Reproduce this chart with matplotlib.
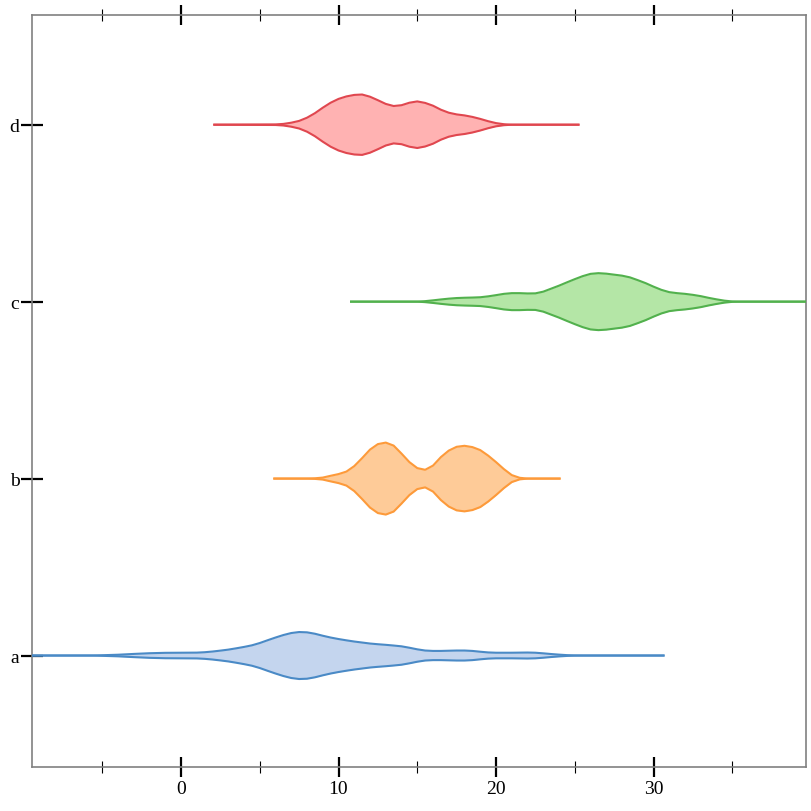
import numpy as np
import matplotlib
matplotlib.use("Agg")
import matplotlib.pyplot as plt
from matplotlib.ticker import MultipleLocator

plt.rcParams['font.family'] = ['Liberation Serif', 'DejaVu Serif']

categories = ['a', 'b', 'c', 'd']

# data range of each group (the thin line)
ranges = {
    'a': (-12.0, 30.7),
    'b': (5.86, 24.1),
    'c': (10.73, 41.0),
    'd': (2.05, 25.3),
}

# density profile (value, density)
a_x = [-5.5, -5.0, -4.0, -3.0, -2.0, -1.0, 0.0, 1.0, 1.5, 2.0, 2.5, 3.0, 3.5, 4.0, 4.5,
       5.0, 5.5, 6.0, 6.5, 7.0, 7.5, 8.0, 8.5, 9.0, 9.5, 10.0, 10.5, 11.0, 11.5, 12.0,
       12.5, 13.0, 13.5, 14.0, 14.5, 15.0, 15.5, 16.0, 16.5, 17.0, 17.5, 18.0, 18.5,
       19.0, 19.5, 20.0, 21.0, 22.0, 22.5, 23.0, 23.5, 24.0, 24.5, 25.0, 25.5]
a_d = [0, 0.3, 0.8, 1.6, 2.3, 2.7, 2.8, 2.9, 3.3, 4.0, 4.9, 5.9, 7.2, 8.6, 10.2,
       12.5, 15.3, 18.0, 20.5, 22.5, 23.5, 23.2, 21.8, 19.8, 18.0, 16.5, 15.2, 14.0, 13.0, 12.0,
       11.3, 10.7, 10.0, 9.2, 7.8, 6.2, 5.0, 4.6, 4.6, 4.8, 5.0, 5.0, 4.6,
       3.8, 3.1, 2.8, 2.8, 3.0, 2.8, 2.2, 1.5, 0.9, 0.4, 0.1, 0]

b_x = [8.0, 8.5, 9.0, 9.5, 10.0, 10.5, 11.0, 11.5, 12.0, 12.5, 13.0, 13.5, 14.0, 14.5,
       15.0, 15.5, 16.0, 16.5, 17.0, 17.5, 18.0, 18.5, 19.0, 19.5, 20.0, 20.5, 21.0, 21.5, 22.0]
b_d = [0, 0.3, 1.0, 2.8, 4.5, 7.0, 12.5, 20.5, 29.0, 34.5, 36.0, 33.0, 25.0, 16.5,
       10.5, 8.8, 13.0, 21.5, 28.0, 31.8, 32.8, 31.5, 28.5, 23.0, 16.5, 9.5, 3.5, 0.8, 0]

c_x = [15.0, 15.5, 16.0, 16.5, 17.0, 17.5, 18.0, 18.5, 19.0, 19.5, 20.0, 20.5, 21.0, 21.5,
       22.0, 22.5, 23.0, 23.5, 24.0, 24.5, 25.0, 25.5, 26.0, 26.5, 27.0, 27.5, 28.0, 28.5,
       29.0, 29.5, 30.0, 30.5, 31.0, 31.5, 32.0, 32.5, 33.0, 33.5, 34.0, 34.5, 35.0, 35.5]
c_d = [0, 0.5, 1.3, 2.2, 3.0, 3.6, 3.9, 4.1, 4.4, 5.3, 6.5, 7.8, 8.5, 8.5,
       8.2, 8.3, 10.0, 13.0, 16.0, 19.3, 22.5, 25.5, 27.8, 28.5, 28.0, 27.0, 26.0, 24.3,
       21.5, 18.5, 15.0, 11.8, 9.5, 8.5, 7.8, 6.8, 5.5, 3.8, 2.3, 1.0, 0.2, 0]

d_x = [6.0, 6.5, 7.0, 7.5, 8.0, 8.5, 9.0, 9.5, 10.0, 10.5, 11.0, 11.5, 12.0, 12.5, 13.0,
       13.5, 14.0, 14.5, 15.0, 15.5, 16.0, 16.5, 17.0, 17.5, 18.0, 18.5, 19.0, 19.5,
       20.0, 20.5, 21.0]
d_d = [0.3, 0.8, 2.0, 3.8, 7.0, 11.5, 17.0, 22.0, 25.8, 28.3, 29.8, 30.2, 28.0, 24.5, 20.8,
       18.7, 19.5, 22.0, 23.3, 21.8, 19.0, 15.0, 12.0, 10.3, 9.3, 7.8, 5.8, 3.5,
       1.6, 0.5, 0]

profiles = {'a': (a_x, a_d), 'b': (b_x, b_d), 'c': (c_x, c_d), 'd': (d_x, d_d)}

fills = {'a': '#c4d5ee', 'b': '#fecb98', 'c': '#b4e6a6', 'd': '#ffb2b2'}
strokes = {'a': '#4a8ac6', 'b': '#fd9a3a', 'c': '#52b14d', 'd': '#e0474f'}

fig = plt.figure(figsize=(8.12, 8.12), dpi=100)
ax = fig.add_axes([32 / 812, 1 - 768 / 812, 774 / 812, 752 / 812])

scale = 1 / 177.0  # density -> category units

for i, cat in enumerate(categories):
    px, pd = profiles[cat]
    lo, hi = ranges[cat]
    xs = np.array([lo] + list(px) + [hi])
    ds = np.array([0] + list(pd) + [0]) * scale
    ax.fill_between(xs, i - ds, i + ds, color=fills[cat], lw=0, zorder=2)
    ax.plot(xs, i + ds, color=strokes[cat], lw=1.5, zorder=3, solid_capstyle='butt')
    ax.plot(xs, i - ds, color=strokes[cat], lw=1.5, zorder=3, solid_capstyle='butt')

ax.set_xlim(-9.46, 39.68)
ax.set_ylim(-0.63, 3.62)

ax.xaxis.set_major_locator(MultipleLocator(10))
ax.xaxis.set_minor_locator(MultipleLocator(5))
ax.set_yticks(range(len(categories)))
ax.set_yticklabels(categories)

ax.tick_params(axis='x', which='major', direction='inout', length=15, width=1.6,
               color='black', top=True, bottom=True, labeltop=False, labelsize=14, pad=2)
ax.tick_params(axis='x', which='minor', direction='inout', length=8, width=0.8,
               color='black', top=True, bottom=True)
ax.tick_params(axis='y', which='major', direction='inout', length=16, width=1.6,
               color='black', left=True, right=False, labelsize=14, pad=1)

for s in ax.spines.values():
    s.set_color('#808080')
    s.set_linewidth(1.2)

fig.savefig('out.png', dpi=100)
